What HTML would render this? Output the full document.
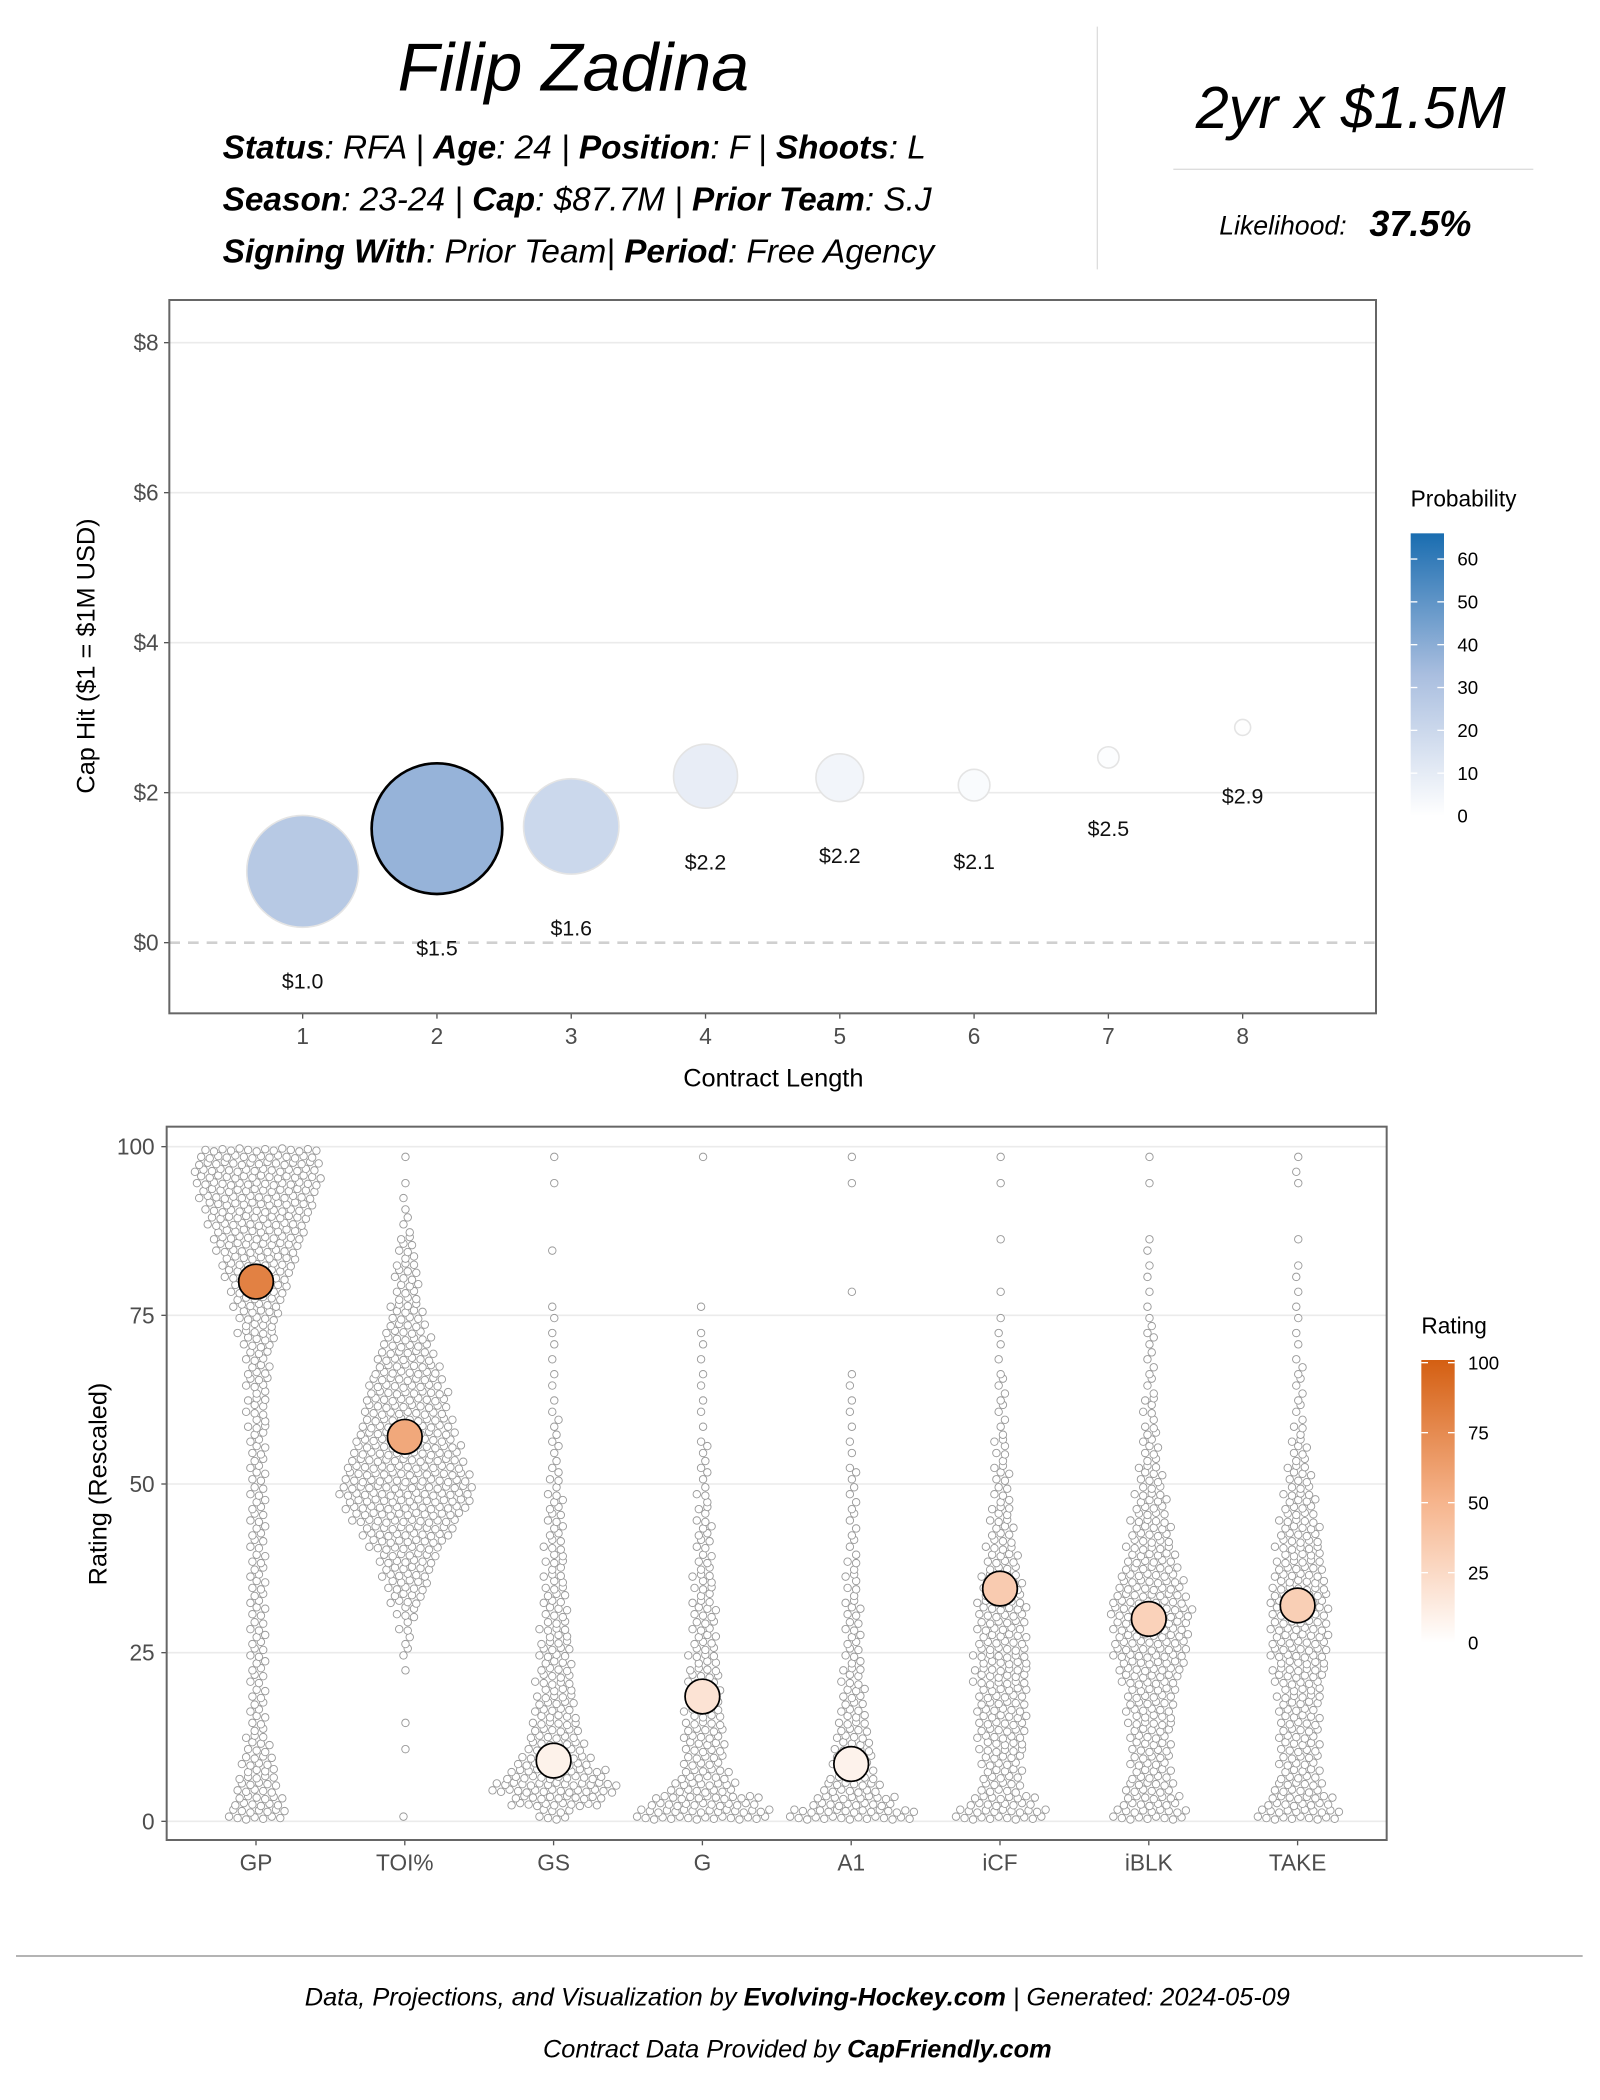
<!DOCTYPE html>
<html><head><meta charset="utf-8"><style>
html,body{margin:0;padding:0;background:#fff;}
svg{display:block;font-family:"Liberation Sans",sans-serif;}
</style></head><body>
<svg id="root" width="1600" height="2100" viewBox="0 0 1200 1575" xmlns="http://www.w3.org/2000/svg">
<defs>
<linearGradient id="blueGrad" x1="0" y1="1" x2="0" y2="0"><stop offset="0" stop-color="#ffffff"/><stop offset="0.5" stop-color="#a9bedf"/><stop offset="1" stop-color="#1a6db0"/></linearGradient>
<linearGradient id="orgGrad" x1="0" y1="1" x2="0" y2="0"><stop offset="0" stop-color="#ffffff"/><stop offset="0.5" stop-color="#f6b48c"/><stop offset="1" stop-color="#d45f12"/></linearGradient>
</defs>
<g>
<text x="430" y="68" text-anchor="middle" font-size="51" font-style="italic">Filip Zadina</text>
<g font-size="25" font-style="italic" fill="#000">
<text x="167" y="119"><tspan font-weight="bold">Status</tspan>: RFA | <tspan font-weight="bold">Age</tspan>: 24 | <tspan font-weight="bold">Position</tspan>: F | <tspan font-weight="bold">Shoots</tspan>: L</text>
<text x="167" y="158"><tspan font-weight="bold">Season</tspan>: 23-24 | <tspan font-weight="bold">Cap</tspan>: $87.7M | <tspan font-weight="bold">Prior Team</tspan>: S.J</text>
<text x="167" y="197"><tspan font-weight="bold">Signing With</tspan>: Prior Team| <tspan font-weight="bold">Period</tspan>: Free Agency</text>
</g>
<line x1="823" y1="20" x2="823" y2="202" stroke="#ddd" stroke-width="1"/>
<text x="1013" y="96" text-anchor="middle" font-size="44.5" font-style="italic">2yr x $1.5M</text>
<line x1="880" y1="127" x2="1150" y2="127" stroke="#ddd"/>
<text x="1010" y="176" text-anchor="end" font-size="20" font-style="italic">Likelihood:</text>
<text x="1027" y="177" font-size="27" font-style="italic" font-weight="bold">37.5%</text>
</g>
<g id="top"></g>
<g id="bot"></g>
<g>
<line x1="12" y1="1467" x2="1187" y2="1467" stroke="#888"/>
<text x="598" y="1504" text-anchor="middle" font-size="19" font-style="italic">Data, Projections, and Visualization by <tspan font-weight="bold">Evolving-Hockey.com</tspan> | Generated: 2024-05-09</text>
<text x="598" y="1543" text-anchor="middle" font-size="19" font-style="italic">Contract Data Provided by <tspan font-weight="bold">CapFriendly.com</tspan></text>
</g>
</svg>
<script>
const NS="http://www.w3.org/2000/svg";
function mk(p,t,a,txt){const e=document.createElementNS(NS,t);for(const k in a)e.setAttribute(k,a[k]);if(txt!==undefined)e.textContent=txt;p.appendChild(e);return e;}

// ---- top chart data ----
const lengths=[1,2,3,4,5,6,7,8];
const capHits=[0.95,1.52,1.55,2.22,2.2,2.1,2.47,2.87];
const capLabels=["$1.0","$1.5","$1.6","$2.2","$2.2","$2.1","$2.5","$2.9"];
const probs=[27.5,37.5,20,9,5,2.2,1,0.56];
const yTicksTop=[0,2,4,6,8];
const probTicks=[0,10,20,30,40,50,60];

// ---- bottom chart data ----
const metrics=["GP","TOI%","GS","G","A1","iCF","iBLK","TAKE"];
const playerRatings=[80,57,9,18.5,8.5,34.5,30,32];
const ratingTicks=[0,25,50,75,100];
const legendTicks=[0,25,50,75,100];
const cGP=[14,12,10,9,8,6,5,4,4,4,4,4,4,4,4,4,4,4,4,4,4,4,4,4,4,4,4,4,4,5,5,5,6,6,6,8,9,10,12,14,16,18,20,22,24,26,28,30,30,28];
const cTOI=[1,0,0,0,0,1,0,1,0,0,0,1,2,2,3,5,8,10,12,14,18,22,26,30,32,30,28,26,24,22,20,20,18,16,14,12,10,8,7,6,6,5,4,3,2,1,1,1,0,1];
const cGS=[8,22,30,24,18,14,12,11,10,9,9,8,8,7,7,6,6,5,5,5,5,4,4,4,3,3,2,2,2,2,1,1,1,1,1,1,1,1,1,0,0,0,1,0,0,0,0,1,0,1];
const cG=[32,26,16,12,10,10,10,9,9,8,8,7,7,6,6,6,5,5,5,4,4,4,3,3,3,2,2,2,1,1,1,1,1,1,1,1,1,0,1,0,0,0,0,0,0,0,0,0,0,1];
const cA1=[30,20,14,11,10,9,8,7,6,6,5,5,4,4,4,4,3,3,3,3,2,2,2,2,2,2,1,1,1,1,1,1,1,1,0,0,0,0,0,1,0,0,0,0,0,0,0,1,0,1];
const cICF=[22,16,10,10,10,11,12,12,12,12,13,13,13,12,12,12,11,10,9,8,7,6,5,5,4,4,3,3,3,2,2,2,2,1,1,1,1,1,0,1,0,0,0,1,0,0,0,1,0,1];
const cBLK=[18,14,12,10,10,10,10,11,12,12,14,16,18,18,18,20,18,16,14,12,11,10,9,8,7,6,5,4,4,3,3,3,2,2,2,2,2,1,1,1,1,1,1,1,0,0,0,1,0,1];
const cTAKE=[20,16,12,10,10,10,10,10,10,11,12,13,14,14,14,14,14,13,12,11,11,10,9,8,7,6,5,4,3,3,2,2,2,2,1,1,1,1,1,1,1,1,0,1,0,0,0,1,1,1];
const swarmCounts=[cGP,cTOI,cGS,cG,cA1,cICF,cBLK,cTAKE];

function lerp(a,b,t){return a+(b-a)*t;}
function mix(c,t){
  const n=c.length-1;t=Math.max(0,Math.min(1,t));const i=Math.min(n-1,Math.floor(t*n));const f=t*n-i;
  return "rgb("+[0,1,2].map(k=>Math.round(lerp(c[i][k],c[i+1][k],f))).join(",")+")";}
const blueStops=[[255,255,255],[169,190,223],[26,109,176]];
const orgStops=[[255,255,255],[246,180,140],[212,95,18]];

// ---- top chart ----
(function(){
const g=document.getElementById('top');
const L=127,R=1032,T=225,B=760;
const X=v=>227+(v-1)*(932-227)/7, Y=v=>707-v*56.25;
mk(g,'rect',{x:L,y:T,width:R-L,height:B-T,fill:'#fff'});
yTicksTop.forEach(v=>{
 if(v>0){const l=mk(g,'line',{x1:L,x2:R,y1:Y(v),y2:Y(v),stroke:'#ebebeb','stroke-width':1.2});}
 const t=mk(g,'text',{x:L-8,y:Y(v)+6,'text-anchor':'end','font-size':17,fill:'#4d4d4d'},'$'+v);
 
 mk(g,'line',{x1:L-4,x2:L,y1:Y(v),y2:Y(v),stroke:'#555'});
});
const z=mk(g,'line',{x1:L,x2:R,y1:Y(0),y2:Y(0),stroke:'#d0d0d0','stroke-width':2,'stroke-dasharray':'8,6'});

lengths.forEach((v,i)=>{
 const r=8*Math.sqrt(probs[i]);
 const c=mk(g,'circle',{cx:X(v),cy:Y(capHits[i]),r:r,fill:mix(blueStops,probs[i]/66),stroke:i==1?'#000':'#e4e4e4','stroke-width':i==1?2:1.2});
 
 const t=mk(g,'text',{x:X(v),y:Y(capHits[i])+r+46+(r<15?5:0),'text-anchor':'middle','font-size':16,fill:'#111'},capLabels[i]);
 
 mk(g,'line',{x1:X(v),x2:X(v),y1:B,y2:B+4,stroke:'#555'});
 const xt=mk(g,'text',{x:X(v),y:B+23,'text-anchor':'middle','font-size':17,fill:'#4d4d4d'},String(v));
 
});
mk(g,'rect',{x:L,y:T,width:R-L,height:B-T,fill:'none',stroke:'#666','stroke-width':1.5});
const xt=mk(g,'text',{x:580,y:815,'text-anchor':'middle','font-size':19},'Contract Length');

const yt=mk(g,'text',{x:0,y:0,'text-anchor':'middle','font-size':19,transform:'translate(71,492) rotate(-90)'},'Cap Hit ($1 = $1M USD)');

const lg=mk(g,'g',{});
mk(lg,'text',{x:1058,y:380,'font-size':17},'Probability');
mk(lg,'rect',{x:1058,y:400,width:25,height:212,fill:'url(#blueGrad)'});
probTicks.forEach(v=>{const y=612-v*(212/66);
 mk(lg,'line',{x1:1058,x2:1063,y1:y,y2:y,stroke:'#fff'});mk(lg,'line',{x1:1078,x2:1083,y1:y,y2:y,stroke:'#fff'});
 const t=mk(lg,'text',{x:1093,y:y+5,'font-size':14},String(v));});
})();

// ---- bottom chart ----
(function(){
const g=document.getElementById('bot');
const L=125,R=1040,T=845,B=1380;
const X=i=>192+i*111.6, Y=v=>1366-v*5.06;
ratingTicks.forEach(v=>{
 const l=mk(g,'line',{x1:L,x2:R,y1:Y(v),y2:Y(v),stroke:'#ebebeb','stroke-width':1.2});
 
 const t=mk(g,'text',{x:L-9,y:Y(v)+6,'text-anchor':'end','font-size':17,fill:'#4d4d4d'},String(v));
 
 mk(g,'line',{x1:L-4,x2:L,y1:Y(v),y2:Y(v),stroke:'#555'});
});
metrics.forEach((m,i)=>{
 const sg=mk(g,'g',{});
 swarmCounts[i].forEach((n,b)=>{
  const yc=Y(b*2+1);
  const rows=[Math.ceil(n/2),Math.floor(n/2)];
  rows.forEach((rn,ri)=>{for(let k=0;k<rn;k++){
   const sh=((k*7+b*3)%5-2)*0.9;
   const c=mk(sg,'circle',{cx:X(i)+(k-(rn-1)/2)*6.4+(ri?2.2:-1)+(b%2?1.5:0),cy:yc+(ri?-2.6:2.6)+sh*0.6,r:2.8,fill:'#fff',stroke:'#9a9a9a','stroke-width':0.7});
   }});
 });
 mk(g,'line',{x1:X(i),x2:X(i),y1:B,y2:B+4,stroke:'#555'});
 const t=mk(g,'text',{x:X(i),y:B+23,'text-anchor':'middle','font-size':17,fill:'#4d4d4d'},m);
 
});
metrics.forEach((m,i)=>{
 const c=mk(g,'circle',{cx:X(i),cy:Y(playerRatings[i]),r:13,fill:mix(orgStops,playerRatings[i]/100),stroke:'#000','stroke-width':1.3});
 
});
mk(g,'rect',{x:L,y:T,width:R-L,height:B-T,fill:'none',stroke:'#666','stroke-width':1.5});
const yt=mk(g,'text',{x:0,y:0,'text-anchor':'middle','font-size':19,transform:'translate(80,1113) rotate(-90)'},'Rating (Rescaled)');

const lg=mk(g,'g',{});
mk(lg,'text',{x:1066,y:1000,'font-size':17},'Rating');
mk(lg,'rect',{x:1066,y:1020,width:25,height:212,fill:'url(#orgGrad)'});
legendTicks.forEach(v=>{const y=1232-v*2.1;
 mk(lg,'line',{x1:1066,x2:1071,y1:y,y2:y,stroke:'#fff'});mk(lg,'line',{x1:1086,x2:1091,y1:y,y2:y,stroke:'#fff'});
 const t=mk(lg,'text',{x:1101,y:y+5,'font-size':14},String(v));});
})();
</script>
</body></html>
